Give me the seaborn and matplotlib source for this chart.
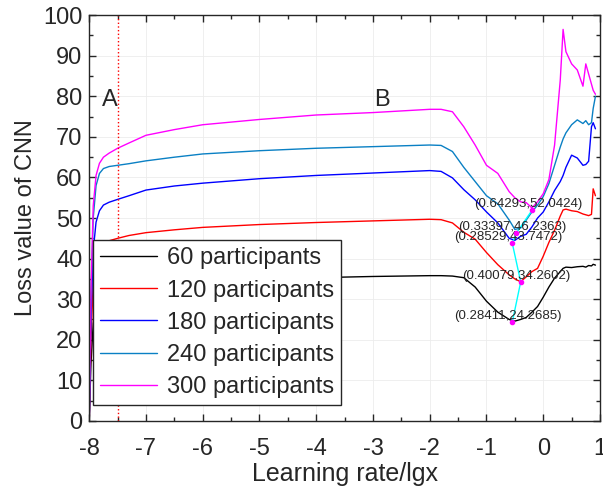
import numpy as np
import pandas as pd
import seaborn as sns
import matplotlib.pyplot as plt
from matplotlib.ticker import MultipleLocator

# learning rate (lg x) grid shared by all curves
lgx = [-8.0, -7.97, -7.93, -7.88, -7.82, -7.75, -7.65, -7.5, -7.3, -7.0,
       -6.5, -6.0, -5.0, -4.0, -3.0, -2.5, -2.0, -1.8, -1.6, -1.4,
       -1.2, -1.0, -0.8, -0.6, -0.5, -0.4, -0.3, -0.2, -0.1, 0.0,
       0.1, 0.2, 0.3, 0.35, 0.4, 0.5, 0.6, 0.7, 0.75, 0.8,
       0.85, 0.88, 0.92]

loss_60 = [0, 14, 24, 28.5, 30.5, 31.5, 32.2, 32.8, 33.3, 33.8,
           34.3, 34.6, 35.0, 35.3, 35.6, 35.7, 35.8, 35.8, 35.7, 35.3,
           33.0, 29.5, 26.8, 25.0, 24.6, 25.0, 25.5, 26.8, 28.2, 30.5,
           33.0, 35.2, 36.8, 37.6, 37.9, 37.8, 38.0, 38.1, 37.9, 38.3,
           38.2, 38.6, 38.4]
loss_120 = [0, 20, 34, 40, 42.5, 43.7, 44.4, 45.0, 45.7, 46.4,
            47.1, 47.7, 48.4, 48.9, 49.3, 49.5, 49.7, 49.6, 48.8, 46.5,
            44.8, 41.5, 38.5, 36.0, 35.0, 34.3, 35.5, 36.8, 37.6, 40.6,
            44.0, 47.0, 50.5, 52.0, 52.2, 51.8, 51.6, 51.0, 50.8, 50.6,
            50.9, 57.2, 55.5]
loss_180 = [0, 25, 42, 49, 51.8, 53.2, 53.9, 54.6, 55.5, 56.9,
            57.9, 58.6, 59.7, 60.5, 61.1, 61.4, 61.7, 61.5, 59.9, 57.0,
            54.5, 51.5, 48.8, 45.0, 44.5, 45.5, 46.0, 47.8, 50.0, 51.5,
            54.0, 56.8, 59.0, 60.5, 62.5, 65.5, 64.8, 63.0, 63.2, 64.0,
            72.5, 73.5, 72.0]
loss_240 = [0, 30, 50, 58, 61, 62.2, 62.7, 63.0, 63.4, 64.1,
            65.0, 65.8, 66.6, 67.2, 67.6, 67.8, 68.0, 67.9, 66.4, 62.5,
            59.0, 55.5, 53.5, 49.5, 47.2, 47.5, 49.5, 51.5, 53.2, 55.3,
            58.5, 63.0, 67.5, 69.5, 71.0, 73.0, 74.2, 73.3, 74.0, 73.0,
            73.5, 77.0, 80.0]
loss_300 = [0, 32, 53, 60.5, 63.5, 65.0, 66.0, 67.2, 68.5, 70.4,
            71.8, 73.0, 74.3, 75.4, 76.0, 76.4, 76.8, 76.8, 76.2, 72.5,
            68.0, 63.0, 61.0, 56.5, 55.0, 54.0, 53.8, 52.5, 54.0, 56.0,
            59.5, 68.0, 84.0, 96.5, 91.0, 88.0, 86.5, 82.5, 88.0, 85.5,
            83.0, 81.5, 80.5]

series_names = ["60 participants", "120 participants", "180 participants",
                "240 participants", "300 participants"]
series_colors = ["black", "#ff0000", "#0000ff", "#0a80c4", "#ff00ff"]

# minimum points (learning rate, loss)
min_lr = [0.28411, 0.40079, 0.28529, 0.33397, 0.64293]
min_loss = [24.2685, 34.2602, 43.7472, 46.2363, 52.0424]

rows = []
for name, ys in zip(series_names, [loss_60, loss_120, loss_180, loss_240, loss_300]):
    for x, y in zip(lgx, ys):
        rows.append({"lgx": x, "loss": y, "group": name})
df = pd.DataFrame(rows)

sns.set_theme(style="ticks")
plt.rcParams["font.family"] = ["Liberation Sans", "DejaVu Sans"]
plt.rcParams["axes.unicode_minus"] = False

fig = plt.figure(figsize=(6.03, 4.90), dpi=100)
ax = fig.add_axes([0.148, 0.141, 0.847, 0.828])

sns.lineplot(data=df, x="lgx", y="loss", hue="group", hue_order=series_names,
             palette=series_colors, linewidth=1.0, ax=ax, estimator=None, sort=False)

# line through the minima
min_x = np.log10(min_lr)
ax.plot(min_x, min_loss, color="cyan", linewidth=1.0, zorder=3)
ax.plot(min_x, min_loss, "o", color="#ff00ff", markersize=3, zorder=4)
for x, y, lr in zip(min_x, min_loss, min_lr):
    ax.annotate("({:.5f},{:.4f})".format(lr, y),
                xy=(x, y), xytext=(-3, 0), textcoords="offset points",
                ha="center", va="bottom", fontsize=9.5, color="#262626")

ax.axvline(-7.5, color="red", linestyle=":", linewidth=1.0)
ax.text(-7.63, 79, "A", fontsize=17, ha="center", va="center")
ax.text(-2.84, 79, "B", fontsize=17, ha="center", va="center")

ax.set_xlim(-8, 1)
ax.set_ylim(0, 100)
ax.xaxis.set_major_locator(MultipleLocator(1))
ax.xaxis.set_minor_locator(MultipleLocator(0.5))
ax.yaxis.set_major_locator(MultipleLocator(10))
ax.yaxis.set_minor_locator(MultipleLocator(5))
ax.tick_params(which="both", direction="in", top=True, right=True,
               colors="#262626", labelsize=17, width=1.0)
ax.tick_params(which="major", length=5)
ax.tick_params(which="minor", length=3)
ax.tick_params(axis="x", which="major", pad=12)
ax.tick_params(axis="y", which="major", pad=5)
ax.grid(True, which="major", color="#ececec", linewidth=0.6)
for s in ax.spines.values():
    s.set_color("#262626")
    s.set_linewidth(1.0)

ax.set_xlabel("Learning rate/lgx", fontsize=18, color="#262626", labelpad=2)
ax.set_ylabel("Loss value of CNN", fontsize=17, color="#262626", labelpad=4)

leg = ax.legend(loc="lower left", bbox_to_anchor=(0.008, 0.039), borderaxespad=0,
                fontsize=17, frameon=True, fancybox=False,
                edgecolor="#262626", framealpha=1, handlelength=2.4,
                labelspacing=0.43, borderpad=0.3, handletextpad=0.4)
leg.get_frame().set_linewidth(1.0)

plt.savefig("out.png", dpi=100)
